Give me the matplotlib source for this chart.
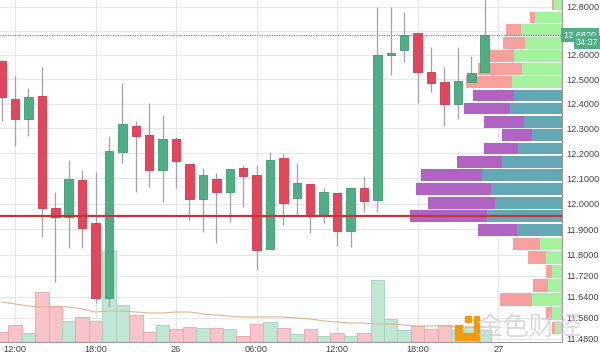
import matplotlib
matplotlib.use('Agg')
import matplotlib.pyplot as plt
from matplotlib.ticker import FixedLocator, FormatStrFormatter, NullLocator
from matplotlib.patches import Rectangle

plt.rcParams['font.family'] = ['Liberation Sans', 'DejaVu Sans']

# hourly candles, x = hours after 12:00 on the 25th
hours = list(range(-1, 36))
opens = [12.575, 12.420, 12.338, 12.432, 11.983, 11.948, 12.094, 11.924, 11.635, 12.205,
         12.310, 12.274, 12.133, 12.256, 12.157, 12.019, 12.098, 12.046, 12.141, 12.114,
         11.823, 12.181, 12.023, 12.078, 11.960, 12.042, 11.895, 12.062, 12.015, 12.600,
         12.621, 12.691, 12.530, 12.489, 12.399, 12.489, 12.530]
closes = [12.428, 12.338, 12.428, 11.985, 11.948, 12.098, 11.905, 11.635, 12.209, 12.318,
          12.270, 12.133, 12.256, 12.169, 12.019, 12.114, 12.046, 12.137, 12.110, 11.819,
          12.173, 12.003, 12.082, 11.960, 12.046, 11.893, 12.062, 12.011, 12.600, 12.608,
          12.683, 12.530, 12.485, 12.399, 12.493, 12.526, 12.682]
highs = [12.580, 12.513, 12.464, 12.550, 12.046, 12.173, 12.133, 12.126, 12.270, 12.485,
         12.330, 12.403, 12.354, 12.266, 12.157, 12.141, 12.122, 12.137, 12.153, 12.153,
         12.205, 12.201, 12.161, 12.078, 12.062, 12.042, 12.062, 12.110, 12.800, 12.800,
         12.779, 12.691, 12.633, 12.550, 12.633, 12.596, 12.840]
lows = [12.330, 12.229, 12.270, 11.871, 11.696, 11.827, 11.827, 11.617, 11.601, 12.161,
        12.046, 12.066, 12.007, 12.062, 11.936, 11.889, 11.846, 11.928, 11.987, 11.742,
        11.823, 11.917, 11.952, 11.885, 11.924, 11.835, 11.831, 11.967, 11.967, 12.518,
        12.571, 12.403, 12.448, 12.310, 12.338, 12.489, 12.530]
volumes = [10, 17, 9, 50, 36, 21, 25, 21, 91, 37, 27, 10, 17, 13, 15, 14, 14, 13, 6, 18,
           20, 14, 8, 13, 6, 9, 6, 9, 62, 23, 12, 16, 13, 17, 12, 15, 12]
volume_ma = [40, 38, 36, 35, 35, 35, 33, 30, 31, 31, 30, 29, 29, 30, 30, 28, 27, 26, 25, 25,
             25, 25, 24, 23, 21, 20, 19, 19, 18, 18, 17, 16, 16, 16, 15, 15, 15]

# volume profile rows (top to bottom)
vp_top = 12.837
vp_step = 0.0537
vp_up = [8, 27, 41, 37, 48, 40, 50, 48, 52, 38, 30, 44, 60, 80, 71, 67, 75, 45, 22, 16, 10, 14, 30, 10, 7]
vp_down = [2, 5, 15, 22, 32, 44, 46, 41, 46, 40, 30, 34, 45, 61, 75, 67, 77, 39, 27, 18, 6, 15, 32, 6, 3]
value_area = [False] * 7 + [True] * 11 + [False] * 7

poc_price = 11.952
last_price = 12.682
countdown = '34:37'

price_ticks = [12.8, 12.7, 12.6, 12.5, 12.4, 12.3, 12.2, 12.1, 12.0, 11.9, 11.8, 11.72, 11.64, 11.56, 11.48]
time_ticks = [0, 6, 12, 18, 24, 30, 36]
time_labels = ['12:00', '18:00', '26', '06:00', '12:00', '18:00', '27']

up_c, dn_c = '#4fae84', '#e3475c'
up_edge, dn_edge = '#3f9a72', '#c9394d'

fig = plt.figure(figsize=(6, 3.54), dpi=100)
rect = [0, 12 / 354, 562 / 600, 342 / 354]
ax_bg = fig.add_axes(rect)
ax_vol = fig.add_axes(rect, sharex=ax_bg)
ax_vp = fig.add_axes(rect, sharey=ax_bg)
ax = fig.add_axes(rect, sharex=ax_bg, sharey=ax_bg)
for a, z in [(ax_bg, 0), (ax_vol, 1), (ax_vp, 2), (ax, 3)]:
    a.set_zorder(z)
for a in (ax_vol, ax_vp, ax):
    a.patch.set_visible(False)

ax.set_yscale('log')
ax.set_ylim(11.468, 12.829)
ax.set_xlim(-1.12, 40.76)
ax.yaxis.set_major_locator(FixedLocator(price_ticks))
ax.yaxis.set_major_formatter(FormatStrFormatter('%.4f'))
ax.yaxis.set_minor_locator(NullLocator())
ax.set_xticks(time_ticks)
ax.set_xticklabels(time_labels)

# background grid
ax_bg.grid(True, color='#e8e8e8', lw=0.8)
ax_bg.tick_params(left=False, bottom=False, labelleft=False, labelbottom=False)
for s in ax_bg.spines.values():
    s.set_visible(False)

# volume
vcols = ['#f8c4ca' if c < o else '#c2e6d4' for o, c in zip(opens, closes)]
vedges = ['#eba3ab' if c < o else '#9fd3ba' for o, c in zip(opens, closes)]
ax_vol.bar(hours, volumes, width=1.0, color=vcols, edgecolor=vedges, lw=0.6)
ax_vol.plot(hours, volume_ma, color='#e0b48e', lw=0.8)
ax_vol.set_ylim(0, 342)
ax_vol.axis('off')

# volume profile
centers = [vp_top - vp_step * (k + 0.5) for k in range(len(vp_up))]
up_cols = ['#63a8b4' if v else '#a2f29e' for v in value_area]
dn_cols = ['#b163c3' if v else '#f7a09f' for v in value_area]
ax_vp.barh(centers, vp_up, height=vp_step * 0.88, color=up_cols)
ax_vp.barh(centers, vp_down, left=vp_up, height=vp_step * 0.88, color=dn_cols)
ax_vp.set_xlim(562, 0)
ax_vp.axis('off')

# candles
cols = [dn_c if c < o else up_c for o, c in zip(opens, closes)]
edges = [dn_edge if c < o else up_edge for o, c in zip(opens, closes)]
ax.vlines(hours, lows, highs, color='#a3a3a3', lw=0.9, zorder=2)
bottoms = [min(o, c) for o, c in zip(opens, closes)]
heights = [max(abs(c - o), 0.003) for o, c in zip(opens, closes)]
ax.bar(hours, heights, bottom=bottoms, width=0.63, color=cols, edgecolor=edges, lw=0.6, zorder=3)

ax.axhline(poc_price, color='#c0363c', lw=1.6, zorder=4)
ax.axhline(last_price, color='#5b8f84', lw=0.8, ls=(0, (1, 1.2)), zorder=1)

ax.yaxis.tick_right()
ax.tick_params(axis='y', length=0, pad=3, labelsize=6.6, labelcolor='#444444')
ax.tick_params(axis='x', length=0, pad=2, labelsize=6.6, labelcolor='#444444')
for s in ['top', 'left']:
    ax.spines[s].set_visible(False)
ax.spines['right'].set_color('#9a9a9a')
ax.spines['bottom'].set_color('#9a9a9a')
ax.spines['right'].set_linewidth(0.8)
ax.spines['bottom'].set_linewidth(0.8)

# price and countdown labels
ytrans = ax.get_yaxis_transform()
ax.text(1.002, last_price, '12.6820', transform=ytrans, ha='left', va='center', fontsize=6.6,
        color='white', zorder=6, bbox=dict(boxstyle='square,pad=0.25', fc='#4fae84', ec='none'))
ax.text(1.025, 12.652, countdown, transform=ytrans, ha='left', va='center', fontsize=6.6,
        color='white', zorder=6, bbox=dict(boxstyle='square,pad=0.25', fc='#4fae84', ec='none'))

# watermark
fig.text(0.882, 0.075, '金色财经', fontsize=19, color='#d2d2d2', alpha=0.8, ha='center', va='center',
         family=['Noto Sans CJK SC', 'DejaVu Sans'], zorder=10)
for (x0, y0, w, h) in [(465, 316, 6, 6), (474, 316, 5, 24), (455, 333, 24, 7), (455, 325, 7, 7)]:
    fig.patches.append(Rectangle((x0 / 600, 1 - (y0 + h) / 354), w / 600, h / 354,
                                 transform=fig.transFigure, color='#f39a12', zorder=10))

fig.savefig('out.png', dpi=100)
